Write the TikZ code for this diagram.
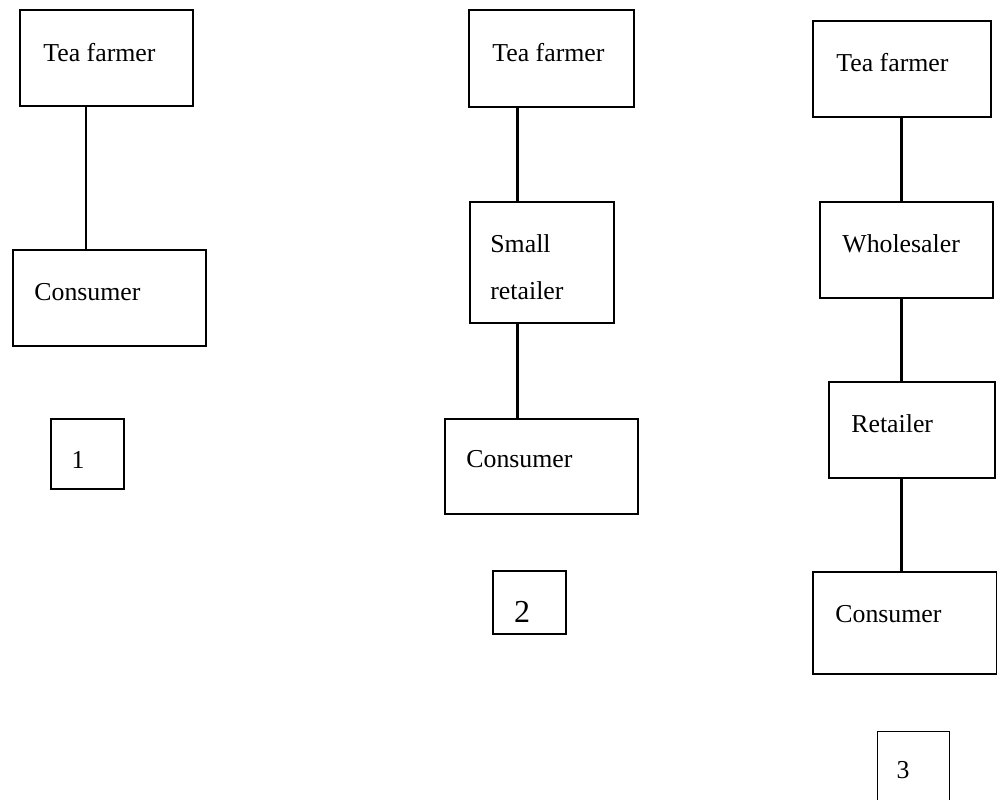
\documentclass[tikz,border=0pt]{standalone}
\usepackage{fontspec}
\setmainfont{Liberation Serif}
\usetikzlibrary{positioning}

\begin{document}
\begin{tikzpicture}[
    x=0.5pt, y=-0.5pt,
    box/.style={draw, line width=1.2pt, inner sep=0pt},
    numbox/.style={box, line width=1.1pt},
    conn/.style={line width=1.3pt},
    lbl/.style={anchor=base west, inner sep=0pt, font=\fontsize{12.9}{15}\selectfont},
    numlbl/.style={anchor=base, inner sep=0pt, font=\fontsize{12.9}{15}\selectfont}
]
    \useasboundingbox (0,0) rectangle (997,799);

    % channel 1
    \node[box, minimum width=86.5pt, minimum height=48pt] (farm1) at (106.5,58) {};
    \node[box, minimum width=96.5pt, minimum height=48pt] (cons1) at (109.5,298) {};
    \node[numbox, minimum width=36.5pt, minimum height=35pt] (num1) at (87.5,454) {};
    \node[lbl] (farm1t) at (43,61) {Tea farmer};
    \node[lbl] (cons1t) at (34,300) {Consumer};
    \node[numlbl] (num1t) at (78,468) {1};
    \coordinate (x1) at (86,0);
    \draw[conn] (farm1.south -| x1) -- (cons1.north -| x1);

    % channel 2
    \node[box, minimum width=82.5pt, minimum height=48.5pt] (farm2) at (551.5,58.5) {};
    \node[box, minimum width=72pt, minimum height=60.5pt] (small2) at (542,262.5) {};
    \node[box, minimum width=96.5pt, minimum height=47.5pt] (cons2) at (541.5,466.5) {};
    \node[numbox, minimum width=36.5pt, minimum height=31.5pt] (num2) at (529.5,602.5) {};
    \node[lbl] (farm2t) at (492,61) {Tea farmer};
    \node[lbl] (small2t) at (490,252) {Small};
    \node[lbl] (small2u) at (490,299) {retailer};
    \node[lbl] (cons2t) at (466,467) {Consumer};
    \node[numlbl, font=\fontsize{16}{19}\selectfont] (num2t) at (522,622) {2};
    \coordinate (x2) at (517.5,0);
    \draw[conn] (farm2.south -| x2) -- (small2.north -| x2);
    \draw[conn] (small2.south -| x2) -- (cons2.north -| x2);

    % channel 3
    \node[box, minimum width=89pt, minimum height=48pt] (farm3) at (902,69) {};
    \node[box, minimum width=86.5pt, minimum height=48pt] (whole3) at (906.5,250) {};
    \node[box, minimum width=83pt, minimum height=48pt] (ret3) at (912,430) {};
    \node[box, minimum width=92pt, minimum height=51pt] (cons3) at (905,623) {};
    \node[numbox, line width=0.5pt, minimum width=36pt, minimum height=37pt] (num3) at (913,768) {};
    \node[lbl] (farm3t) at (836,71) {Tea farmer};
    \node[lbl] (whole3t) at (842,252) {Wholesaler};
    \node[lbl] (ret3t) at (851,432) {Retailer};
    \node[lbl] (cons3t) at (835,622) {Consumer};
    \node[numlbl] (num3t) at (903,778) {3};
    \coordinate (x3) at (901.5,0);
    \draw[conn] (farm3.south -| x3) -- (whole3.north -| x3);
    \draw[conn] (whole3.south -| x3) -- (ret3.north -| x3);
    \draw[conn] (ret3.south -| x3) -- (cons3.north -| x3);
\end{tikzpicture}
\end{document}
